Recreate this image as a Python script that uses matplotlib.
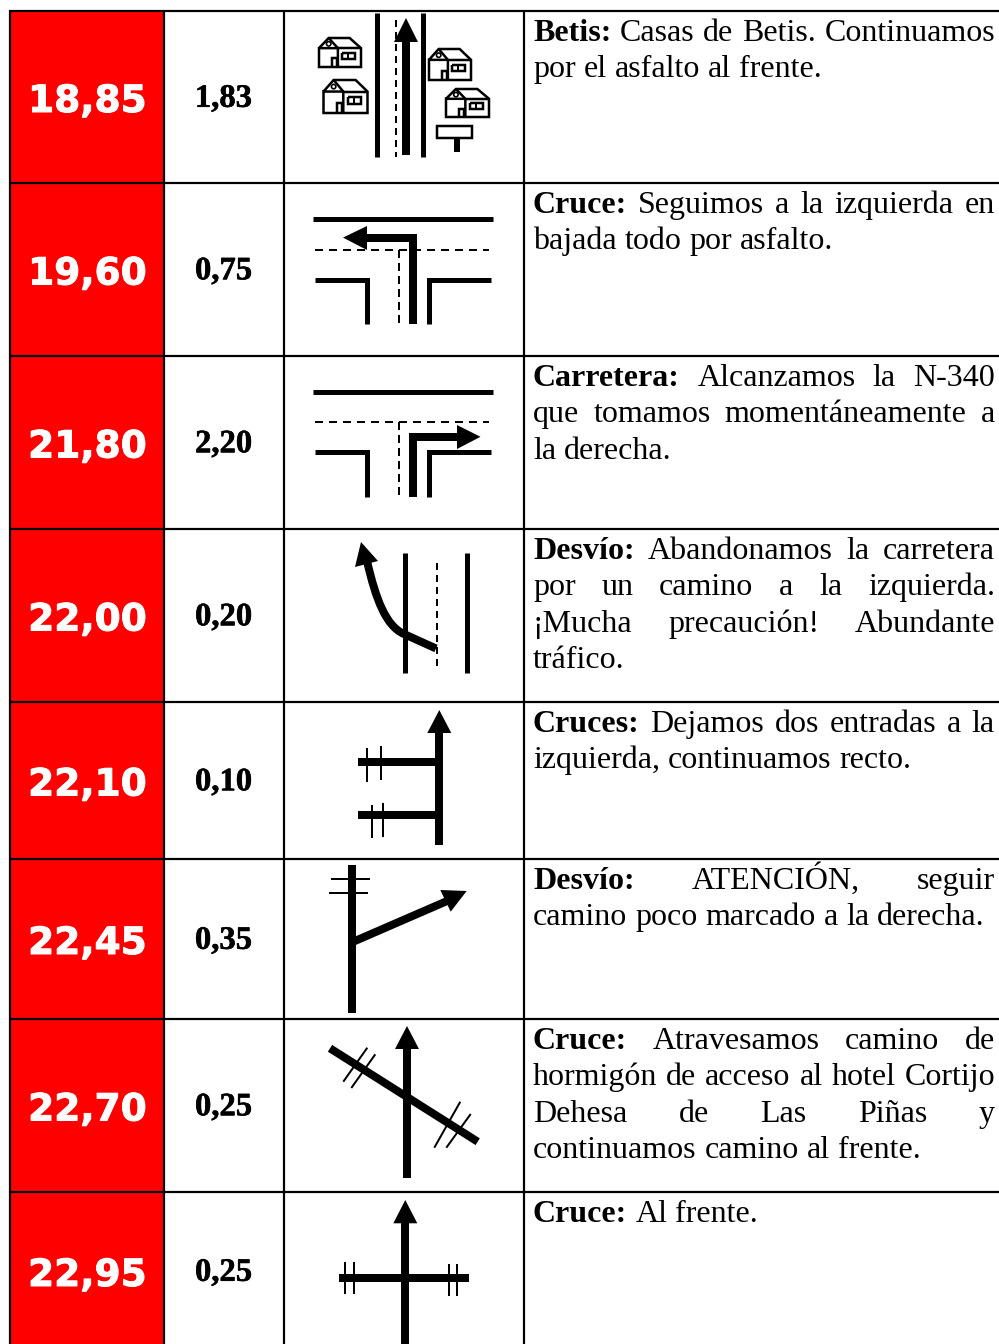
import numpy as np
import matplotlib
matplotlib.use("Agg")
import matplotlib.pyplot as plt
import matplotlib.patheffects as pe
from matplotlib.patches import Polygon, Rectangle, Circle, PathPatch
from matplotlib.path import Path

KM_TOTAL = ["18,85", "19,60", "21,80", "22,00", "22,10", "22,45", "22,70", "22,95"]
KM_PARTIAL = ["1,83", "0,75", "2,20", "0,20", "0,10", "0,35", "0,25", "0,25"]
HEADINGS = ["Betis:", "Cruce:", "Carretera:", "Desvío:", "Cruces:", "Desvío:", "Cruce:", "Cruce:"]
DESCRIPTIONS = [
    ["Casas de Betis. Continuamos", "por el asfalto al frente."],
    ["Seguimos a la izquierda en", "bajada todo por asfalto."],
    ["Alcanzamos la N-340", "que tomamos momentáneamente a", "la derecha."],
    ["Abandonamos la carretera", "por un camino a la izquierda.", "¡Mucha precaución! Abundante", "tráfico."],
    ["Dejamos dos entradas a la", "izquierda, continuamos recto."],
    ["ATENCIÓN, seguir", "camino poco marcado a la derecha."],
    ["Atravesamos camino de", "hormigón de acceso al hotel Cortijo", "Dehesa de Las Piñas y", "continuamos camino al frente."],
    ["Al frente."],
]
ROW_EDGES = [11, 183, 356, 529, 702, 859, 1019, 1192, 1350]
COL_EDGES = [10, 164, 284, 524]

W, H = 999, 1344
fig = plt.figure(figsize=(W / 100, H / 100), dpi=100, facecolor="white")
ax = fig.add_axes([0, 0, 1, 1])
ax.set_xlim(0, W)
ax.set_ylim(H, 0)
ax.axis("off")
PX = 0.72

def ln(xs, ys, w, **kw):
    kw.setdefault("solid_capstyle", "butt")
    kw.setdefault("solid_joinstyle", "miter")
    ax.plot(xs, ys, color="black", lw=w * PX, zorder=3, **kw)

def dash(xs, ys, on=7, off=5):
    ax.plot(xs, ys, color="black", lw=2 * PX, zorder=3, dashes=(on / 2, off / 2), dash_capstyle="butt")

def head(tip, c1, c2):
    ax.add_patch(Polygon([tip, c1, c2], closed=True, fc="black", ec="none", zorder=4))

def house(x0, y0, x1, y1):
    w, h = x1 - x0, y1 - y0
    P = lambda a, b: (x0 + a * w, y0 + b * h)
    def pl(pts, lw=2.5):
        xs, ys = zip(*[P(*p) for p in pts])
        ln(xs, ys, lw)
    pl([(0, .35), (.23, 0), (.73, 0), (1, .35), (1, 1), (0, 1), (0, .35), (.45, .35)])
    pl([(.23, 0), (.45, .35), (.45, 1)])
    pl([(.45, .35), (1, .35)])
    pl([(.3, 1), (.3, .7), (.43, .7), (.43, 1)])
    pl([(.55, .5), (.85, .5), (.85, .72), (.55, .72), (.55, .5)])
    pl([(.7, .5), (.7, .72)], 2.0)
    ax.add_patch(Circle(P(.23, .2), 2.2, fc="white", ec="black", lw=1.2, zorder=4))

# ---------- cells ----------
for i in range(len(KM_TOTAL)):
    ax.add_patch(Rectangle((COL_EDGES[0], ROW_EDGES[i]), COL_EDGES[1] - COL_EDGES[0],
                           ROW_EDGES[i + 1] - ROW_EDGES[i], fc="#ff0000", ec="none", zorder=1))
for x in COL_EDGES:
    ax.plot([x, x], [ROW_EDGES[0] - 1, H], color="black", lw=2.2 * PX, zorder=2, solid_capstyle="butt")
for y in ROW_EDGES[:-1]:
    ax.plot([COL_EDGES[0] - 1, W], [y, y], color="black", lw=2.2 * PX, zorder=2, solid_capstyle="butt")

# ---------- numbers ----------
for i, (a, b) in enumerate(zip(KM_TOTAL, KM_PARTIAL)):
    c = (ROW_EDGES[i] + ROW_EDGES[i + 1]) / 2
    ax.text(87.5, c + 15, a, color="white", fontsize=27, fontweight="bold", family="DejaVu Sans",
            ha="center", va="baseline", zorder=5,
            path_effects=[pe.withStroke(linewidth=0.7, foreground="white")])
    ax.text(223.5, c + 9.8, b, color="black", fontsize=23.5, fontweight="bold", family="Liberation Serif",
            ha="center", va="baseline", zorder=5,
            path_effects=[pe.withStroke(linewidth=0.4, foreground="black")])

# ---------- justified description text ----------
fig.canvas.draw()
rend = fig.canvas.get_renderer()
TXT_L, TXT_R, FS, LEAD = 533, 995, 23.0, 36.6

def width(s, weight):
    t = ax.text(0, 0, s, fontsize=FS, family="Liberation Serif", fontweight=weight)
    w = t.get_window_extent(rend).width
    t.remove()
    return w

for i, (hd, lines) in enumerate(zip(HEADINGS, DESCRIPTIONS)):
    base = ROW_EDGES[i] + 29.7
    for j, line in enumerate(lines):
        words = [(w, "normal") for w in line.split()]
        if j == 0:
            words = [(hd, "bold")] + words
        ws = [width(w, wt) for w, wt in words]
        natural_gap = width("a a", "normal") - 2 * width("a", "normal")
        last = j == len(lines) - 1
        if last or len(words) == 1:
            gap = natural_gap
        else:
            gap = (TXT_R - TXT_L - sum(ws)) / (len(words) - 1)
        x = TXT_L
        for (w, wt), wd in zip(words, ws):
            ax.text(x, base + j * LEAD, w, fontsize=FS, family="Liberation Serif", fontweight=wt,
                    ha="left", va="baseline", color="black", zorder=5)
            x += wd + gap

# ---------- icon 1 ----------
ln([377, 377], [13, 157], 5)
ln([422.5, 422.5], [13, 157], 5)
dash([395.7, 395.7], [20, 157])
ln([406, 406], [155, 40], 8)
head((406, 18), (394, 42), (418, 42))
house(319, 38, 361, 67)
house(323.5, 80, 367.5, 113)
house(429, 49, 471, 80)
house(446, 89, 489, 117)
ax.add_patch(Rectangle((437, 126), 35, 12, fc="white", ec="black", lw=2.5 * PX, zorder=3))
ln([457, 457], [138, 152], 6)

# ---------- icon 2 / 3 ----------
ln([313, 493], [219, 219], 5)
dash([315, 489], [249.6, 249.6], 8, 6)
dash([399, 399], [250, 326], 8, 5)
ln([315, 366.6, 366.6], [279.5, 279.5, 324], 5)
ln([428.5, 428.5, 490.5], [324, 279.5, 279.5], 5)
ln([413, 413, 366], [324, 237.6, 237.6], 8)
head((343, 237.6), (367, 226), (367, 250))

ln([313, 493], [391.5, 391.5], 5)
dash([315, 489], [422, 422], 8, 6)
dash([399, 399], [422, 499], 8, 5)
ln([315, 366.6, 366.6], [452, 452, 496.5], 5)
ln([428.5, 428.5, 490.5], [496.5, 452, 452], 5)
ln([413, 413, 458], [496.5, 436.8, 436.8], 8)
head((480.5, 436.8), (457, 425), (457, 449))

# ---------- icon 4 ----------
ln([404.5, 404.5], [553, 673], 5)
ln([466.7, 466.7], [553, 673], 5)
dash([436.7, 436.7], [563, 670], 7, 5)
curve = PathPatch(Path([(436, 648.5), (404, 634), (386, 626), (376, 600), (367, 561)],
                       [Path.MOVETO, Path.LINETO, Path.CURVE4, Path.CURVE4, Path.CURVE4]),
                  fc="none", ec="black", lw=8 * PX, zorder=3, capstyle="butt", joinstyle="round")
ax.add_patch(curve)
head((361, 542), (355, 567), (378, 561))

# ---------- icon 5 ----------
ln([439.3, 439.3], [845, 731], 8)
head((439.3, 710), (427.3, 733), (451.3, 733))
ln([357.7, 439], [761.7, 761.7], 8)
ln([357.7, 439], [815, 815], 8)
ln([367.3, 367.3], [748, 781.7], 2)
ln([381.3, 381.3], [746, 780], 2)
ln([371.7, 371.7], [805, 838], 2)
ln([382.7, 382.7], [803, 837], 2)

# ---------- icon 6 ----------
ln([352, 352], [865, 1013], 8)
ln([330.7, 370], [879, 879], 2)
ln([329, 368.3], [893, 893], 2)
ln([353.3, 451.7], [941.7, 899], 8)
head((466.7, 891), (440.3, 890), (450.7, 911.7))

# ---------- icon 7 ----------
ln([407, 407], [1177.7, 1047], 8)
head((407, 1026), (395, 1049), (419, 1049))
ln([330, 477.7], [1048.3, 1141.7], 8)
ln([367.3, 343.3], [1047.7, 1081.7], 2)
ln([375.3, 351.3], [1054.3, 1088], 2)
ln([460.3, 434.3], [1101.7, 1147.7], 2)
ln([470.7, 446.3], [1114, 1147.7], 2)

# ---------- icon 8 ----------
ln([405.3, 405.3], [1344, 1221], 8)
head((405.3, 1200), (393.3, 1223.3), (417.3, 1223.3))
ln([339.3, 469.3], [1277.7, 1277.7], 8)
ln([345.3, 345.3], [1262, 1294], 2)
ln([353.7, 353.7], [1262, 1294], 2)
ln([449.3, 449.3], [1264, 1295.7], 2)
ln([457.3, 457.3], [1264, 1295.7], 2)

fig.savefig("out.png", dpi=100, facecolor="white")
